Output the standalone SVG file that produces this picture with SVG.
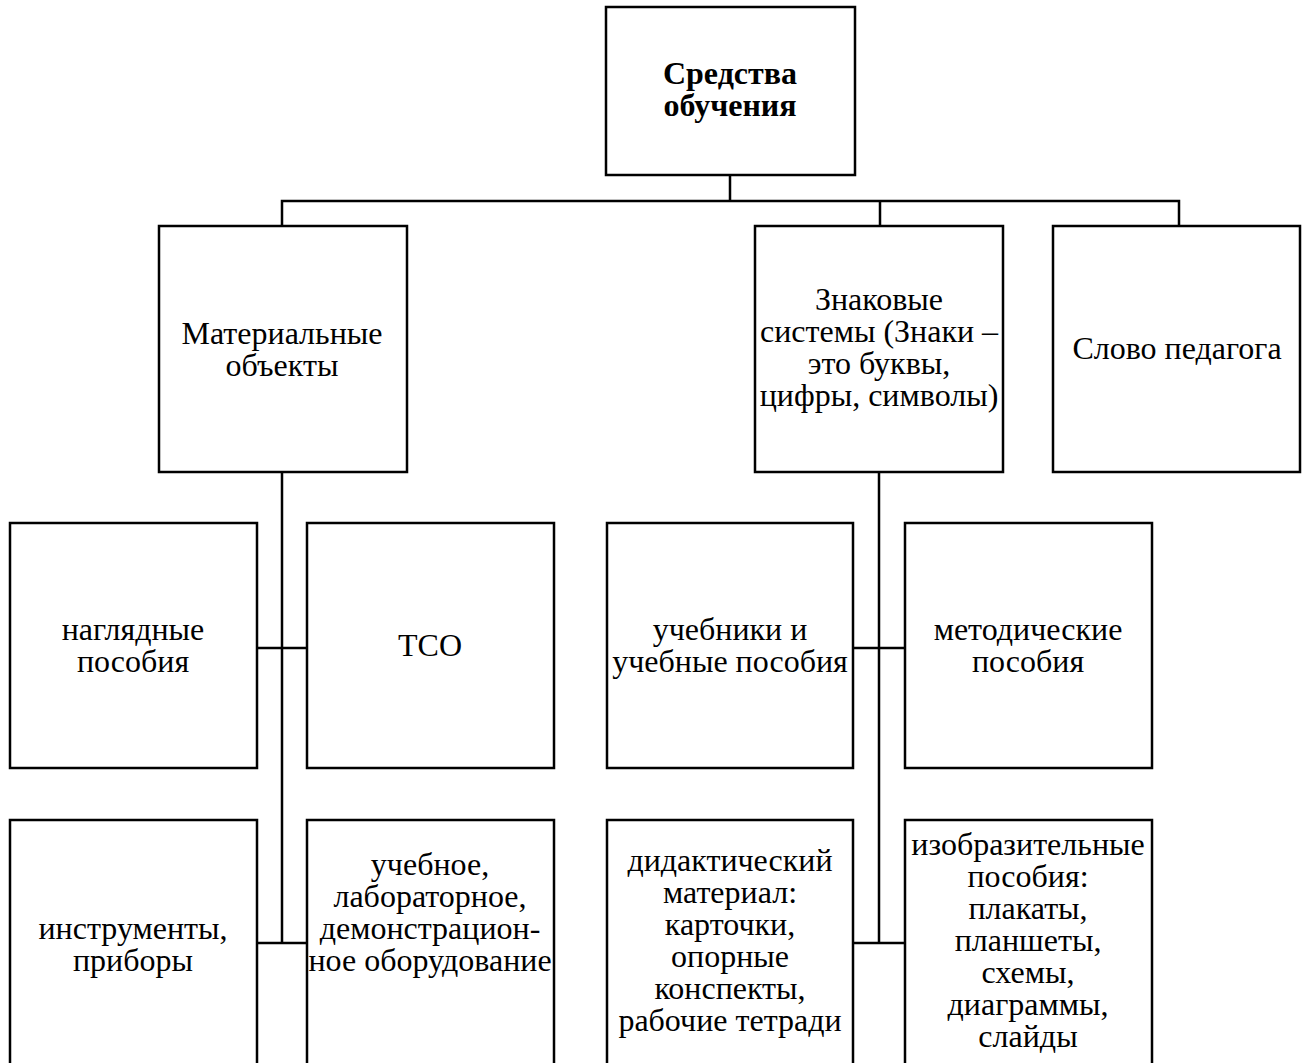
<svg xmlns="http://www.w3.org/2000/svg" width="1307" height="1063" viewBox="0 0 1307 1063">
<style>
.box{fill:#fff;stroke:#000;stroke-width:2.5}
.ln{fill:none;stroke:#000;stroke-width:2.5}
text{font-family:"Liberation Serif","Times New Roman",serif;font-size:32px;text-anchor:middle;fill:#000}
.b{font-weight:bold}
</style>
<rect width="1307" height="1063" fill="#fff"/>
<g id="connectors">
<path class="ln" d="M730,175 V201 M282,226 V201 H1179 V226 M880,201 V226"/>
<path class="ln" d="M282,472 V943 M257,648 H307 M257,943 H307"/>
<path class="ln" d="M879,472 V943 M853,648 H905 M853,943 H905"/>
</g>
<g id="n-root"><rect class="box" x="606" y="7" width="249" height="168"/>
<text class="b" x="730" y="84">Средства</text><text class="b" x="730" y="116">обучения</text></g>
<g id="n-material"><rect class="box" x="159" y="226" width="248" height="246"/>
<text x="282" y="344">Материальные</text><text x="282" y="376">объекты</text></g>
<g id="n-znak"><rect class="box" x="755" y="226" width="248" height="246"/>
<text x="879" y="310">Знаковые</text><text x="879" y="342">системы (Знаки –</text><text x="879" y="374">это буквы,</text><text x="879" y="406">цифры, символы)</text></g>
<g id="n-slovo"><rect class="box" x="1053" y="226" width="247" height="246"/>
<text x="1177" y="359">Слово педагога</text></g>
<g id="n-nagl"><rect class="box" x="10" y="523" width="247" height="245"/>
<text x="133" y="640">наглядные</text><text x="133" y="672">пособия</text></g>
<g id="n-tso"><rect class="box" x="307" y="523" width="247" height="245"/>
<text x="430" y="656">ТСО</text></g>
<g id="n-ucheb"><rect class="box" x="607" y="523" width="246" height="245"/>
<text x="730" y="640">учебники и</text><text x="730" y="672">учебные пособия</text></g>
<g id="n-metod"><rect class="box" x="905" y="523" width="247" height="245"/>
<text x="1028" y="640">методические</text><text x="1028" y="672">пособия</text></g>
<g id="n-instr"><rect class="box" x="10" y="820" width="247" height="260"/>
<text x="133" y="939">инструменты,</text><text x="133" y="971">приборы</text></g>
<g id="n-oborud"><rect class="box" x="307" y="820" width="247" height="260"/>
<text x="430" y="875">учебное,</text><text x="430" y="907">лабораторное,</text><text x="430" y="939">демонстрацион-</text><text x="430" y="971">ное оборудование</text></g>
<g id="n-didakt"><rect class="box" x="607" y="820" width="246" height="260"/>
<text x="730" y="871">дидактический</text><text x="730" y="903">материал:</text><text x="730" y="935">карточки,</text><text x="730" y="967">опорные</text><text x="730" y="999">конспекты,</text><text x="730" y="1031">рабочие тетради</text></g>
<g id="n-izobr"><rect class="box" x="905" y="820" width="247" height="260"/>
<text x="1028" y="855">изобразительные</text><text x="1028" y="887">пособия:</text><text x="1028" y="919">плакаты,</text><text x="1028" y="951">планшеты,</text><text x="1028" y="983">схемы,</text><text x="1028" y="1015">диаграммы,</text><text x="1028" y="1047">слайды</text></g>
</svg>
